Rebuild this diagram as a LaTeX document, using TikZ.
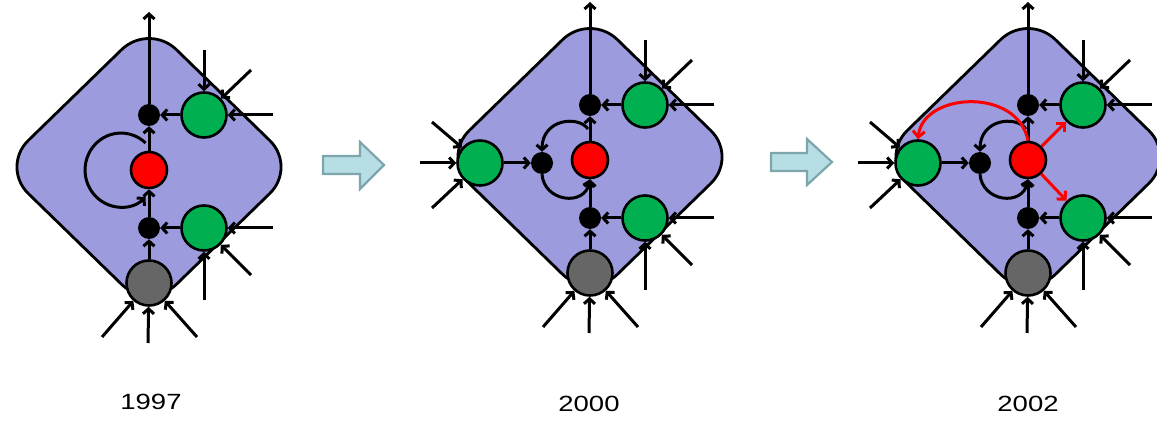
\documentclass[tikz,border=0pt]{standalone}
\usepackage{fontspec}
\setmainfont{Liberation Sans}
\usetikzlibrary{arrows.meta}
\definecolor{diamfill}{RGB}{155,155,221}
\definecolor{nodegreen}{RGB}{0,176,80}
\definecolor{nodegray}{RGB}{102,102,102}
\definecolor{barfill}{RGB}{183,222,228}
\definecolor{bardraw}{RGB}{125,165,172}
\tikzset{
  diam/.style={draw=black, line width=2.8pt, fill=diamfill, rounded corners=38pt},
  dotnode/.style={circle, fill=black, minimum size=22pt, inner sep=0pt},
  rednode/.style={circle, draw=black, line width=2.6pt, fill=red, minimum size=36pt, inner sep=0pt},
  greennode/.style={circle, draw=black, line width=2.6pt, fill=nodegreen, minimum size=45pt, inner sep=0pt},
  graynode/.style={circle, draw=black, line width=2.6pt, fill=nodegray, minimum size=45pt, inner sep=0pt},
  conn/.style={line width=3pt, -{Straight Barb[length=5pt,width=11pt]}},
  redconn/.style={line width=3pt, draw=red, -{Straight Barb[length=6pt,width=12pt]}},
  bigarrow/.style={draw=bardraw, fill=barfill, line width=2.2pt, line join=miter},
  year/.style={font=\fontsize{22}{22}\selectfont, inner sep=0pt}
}
\newcommand\basepanel[1]{%
  \draw[diam] (74,-72) -- (148,0) -- (0,144) -- (-148,0) -- (0,-144) -- cycle;
  \node[dotnode] (#1u) at (0,-52) {};
  \node[greennode] (#1ug) at (55,-52) {};
  \node[rednode] (#1r) at (0,3) {};
  \node[dotnode] (#1d) at (0,61) {};
  \node[greennode] (#1dg) at (55,61) {};
  \node[graynode] (#1g) at (0,116) {};
  \coordinate (#1o) at (0,-155);
  \coordinate (#1i1) at (55,-117);
  \coordinate (#1i2) at (102,-97);
  \coordinate (#1i3) at (124,-52);
  \coordinate (#1i4) at (124,61);
  \coordinate (#1i5) at (102,108);
  \coordinate (#1i6) at (55,133);
  \coordinate (#1i7) at (-47,170);
  \coordinate (#1i8) at (-1,176);
  \coordinate (#1i9) at (48,170);
  \draw[conn] (#1g) -- (#1d);
  \draw[conn] (#1d) -- (#1r);
  \draw[conn] (#1r) -- (#1u);
  \draw[conn] (#1u) -- (#1o);
  \draw[conn] (#1ug) -- (#1u);
  \draw[conn] (#1dg) -- (#1d);
  \draw[conn] (#1i1) -- (#1ug);
  \draw[conn] (#1i2) -- (#1ug);
  \draw[conn] (#1i3) -- (#1ug);
  \draw[conn] (#1i4) -- (#1dg);
  \draw[conn] (#1i5) -- (#1dg);
  \draw[conn] (#1i6) -- (#1dg);
  \draw[conn] (#1i7) -- (#1g);
  \draw[conn] (#1i8) -- (#1g);
  \draw[conn] (#1i9) -- (#1g);
}
\newcommand\leftpart[1]{%
  \node[dotnode] (#1l) at (-48,6) {};
  \node[greennode] (#1lg) at (-110,6) {};
  \coordinate (#1j1) at (-158,-35);
  \coordinate (#1j2) at (-170,6);
  \coordinate (#1j3) at (-158,51);
  \coordinate (#1lt) at (-2,-28);
  \draw[conn] (#1lg) -- (#1l);
  \draw[conn] (#1j1) -- (#1lg);
  \draw[conn] (#1j2) -- (#1lg);
  \draw[conn] (#1j3) -- (#1lg);
  \draw[conn] (#1lt) .. controls (-12,-42) and (-48,-38) .. (#1l.north);
  \draw[conn] (#1l.south) .. controls (-46,45) and (-5,50) .. (#1r.south);
}
\begin{document}
\begin{tikzpicture}[x=1pt,y=-1pt]
  \useasboundingbox (0,0) rectangle (1157,422);
  \clip (0,0) rectangle (1157,422);
  % panel 1997
  \begin{scope}[shift={(149,167)}]
    \basepanel{a}
    \coordinate (als) at (-3.4,-24);
    \draw[conn] (als) arc[start angle=-47, end angle=-313, x radius=36, y radius=37];
  \end{scope}
  % panel 2000
  \begin{scope}[shift={(590,157)}]
    \basepanel{b}
    \leftpart{b}
  \end{scope}
  % panel 2002
  \begin{scope}[shift={(1028,157)}]
    \basepanel{c}
    \leftpart{c}
    \draw[redconn] (cr.north) .. controls (-10,-70) and (-105,-65) .. (clg.north);
    \draw[redconn] (cr) -- (cug);
    \draw[redconn] (cr) -- (cdg);
  \end{scope}
  % block arrows
  \draw[bigarrow] (323,156) -- (360,156) -- (360,142) -- (384,165) -- (360,189) -- (360,174) -- (323,174) -- cycle;
  \draw[bigarrow] (771,153) -- (807,153) -- (807,139) -- (832,162) -- (807,185) -- (807,171) -- (771,171) -- cycle;
  % years
  \node[year] (ya) at (151,402) {\scalebox{1.25}[1]{1997}};
  \node[year] (yb) at (589,404) {\scalebox{1.25}[1]{2000}};
  \node[year] (yc) at (1028,404) {\scalebox{1.25}[1]{2002}};
\end{tikzpicture}
\end{document}
